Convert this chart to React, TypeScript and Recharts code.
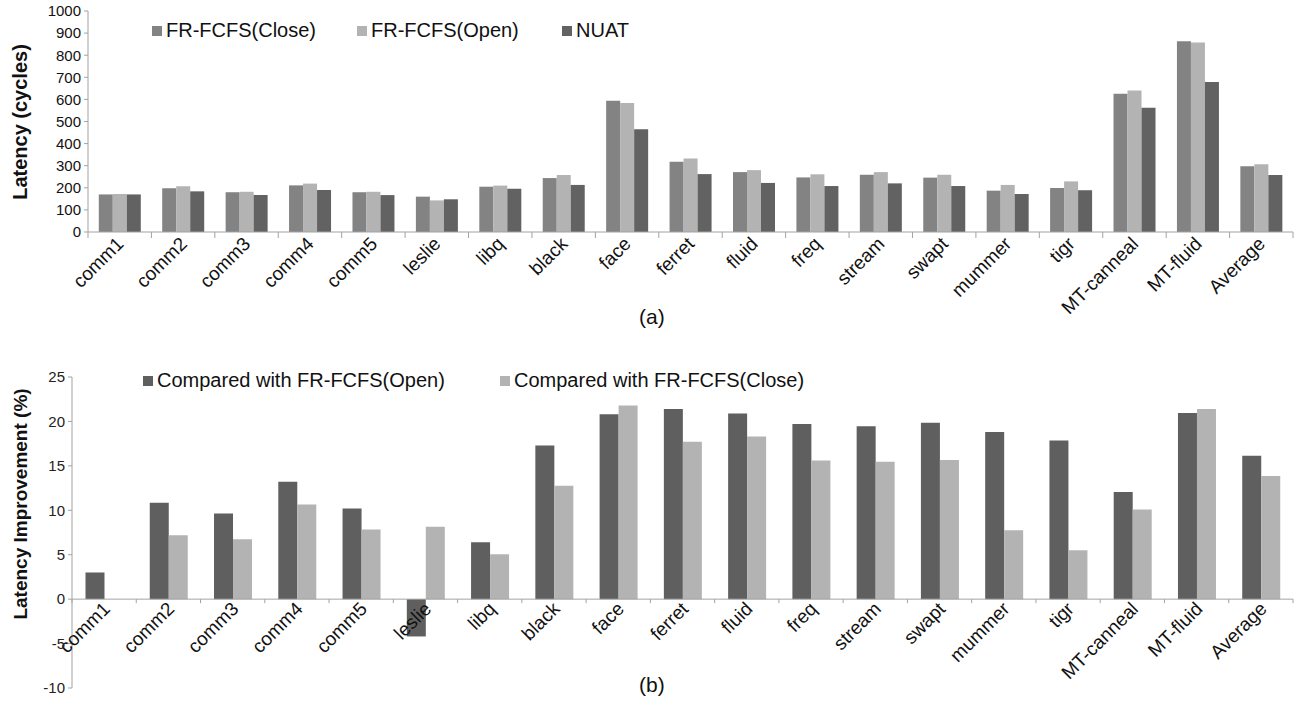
import React from 'react';
import { BarChart, Bar, XAxis, YAxis, Legend, ReferenceLine } from 'recharts';

const categories = [
  'comm1', 'comm2', 'comm3', 'comm4', 'comm5', 'leslie', 'libq', 'black', 'face', 'ferret',
  'fluid', 'freq', 'stream', 'swapt', 'mummer', 'tigr', 'MT-canneal', 'MT-fluid', 'Average',
];

// (a) latency in cycles
const closeLatency = [170, 198, 180, 211, 180, 160, 205, 244, 594, 318, 271, 247, 259, 246, 187, 199, 626, 863, 297];
const openLatency = [172, 207, 182, 219, 182, 143, 210, 258, 584, 333, 280, 261, 271, 259, 213, 229, 640, 858, 306];
const nuatLatency = [170, 184, 167, 190, 167, 148, 196, 213, 465, 262, 222, 208, 220, 208, 172, 189, 562, 679, 258];
const latencyTicks = [0, 100, 200, 300, 400, 500, 600, 700, 800, 900, 1000];

// (b) latency improvement in %
const vsOpen = [3.0, 10.85, 9.65, 13.2, 10.2, -4.2, 6.4, 17.3, 20.8, 21.4, 20.9, 19.7, 19.45, 19.85, 18.8, 17.85, 12.05, 20.95, 16.15];
const vsClose = [0, 7.2, 6.75, 10.65, 7.85, 8.15, 5.05, 12.75, 21.8, 17.7, 18.3, 15.6, 15.45, 15.65, 7.75, 5.5, 10.1, 21.4, 13.85];
const improvementTicks = [-10, -5, 0, 5, 10, 15, 20, 25];

const latencyData = categories.map((name, i) => ({
  name,
  close: closeLatency[i],
  open: openLatency[i],
  nuat: nuatLatency[i],
}));

const improvementData = categories.map((name, i) => ({
  name,
  vsOpen: vsOpen[i],
  vsClose: vsClose[i],
}));

const FONT = '"Liberation Sans", Arial, Helvetica, sans-serif';
const AXIS_COLOR = '#a3a3a3';
const WIDTH = 1294;

// layout of the two panels
const TOP_H = 345;
const TOP_MARGIN_T = 11;
const TOP_XAXIS_H = 113;
const TOP_LEFT = 88;

const BOT_OFFSET = 360;
const BOT_H = 347;
const BOT_MARGIN_T = 17;
const BOT_XAXIS_H = 19;
const BOT_LEFT = 72;
const RIGHT_MARGIN = 1;

const topBand = (WIDTH - RIGHT_MARGIN - TOP_LEFT) / categories.length;
const botBand = (WIDTH - RIGHT_MARGIN - BOT_LEFT) / categories.length;
const botPlotH = BOT_H - BOT_MARGIN_T - BOT_XAXIS_H;
const botZeroLift =
  (botPlotH * (0 - improvementTicks[0])) / (improvementTicks[improvementTicks.length - 1] - improvementTicks[0]);

const CategoryTick = (props: any) => {
  const { x, y, payload, band, lift, dx, dy, tickLen } = props;
  const yy = y - lift;
  const isLast = payload.value === categories[categories.length - 1];
  return (
    <g>
      <line x1={x - band / 2} x2={x - band / 2} y1={yy} y2={yy + tickLen} stroke={AXIS_COLOR} />
      {isLast && <line x1={x + band / 2} x2={x + band / 2} y1={yy} y2={yy + tickLen} stroke={AXIS_COLOR} />}
      <text
        x={0}
        y={0}
        transform={`translate(${x + dx},${yy + dy}) rotate(-45)`}
        textAnchor="end"
        fontSize={19}
        fontFamily={FONT}
        fill="#111"
      >
        {payload.value}
      </text>
    </g>
  );
};

const AxisTitle = ({ text, cx, cy, size }: any) => (
  <text
    x={cx}
    y={cy}
    transform={`rotate(-90, ${cx}, ${cy})`}
    textAnchor="middle"
    fontSize={size}
    fontWeight="bold"
    fontFamily={FONT}
    fill="#111"
  >
    {text}
  </text>
);

const LegendContent = ({ payload, itemWidth, order }: any) => {
  const items = [...(payload || [])].sort(
    (a: any, b: any) => order.indexOf(a.dataKey) - order.indexOf(b.dataKey)
  );
  return (
    <div style={{ display: 'flex', fontFamily: FONT, fontSize: 20, color: '#111', whiteSpace: 'nowrap', lineHeight: '23px' }}>
      {items.map((entry: any) => (
        <div key={entry.value} style={{ display: 'flex', alignItems: 'center', width: itemWidth }}>
          <span style={{ display: 'inline-block', width: 10, height: 10, background: entry.color, marginRight: 4 }} />
          <span>{entry.value}</span>
        </div>
      ))}
    </div>
  );
};

const PanelLabel = ({ text, left, top }: any) => (
  <div style={{ position: 'absolute', left, top, fontFamily: FONT, fontSize: 21, color: '#111', lineHeight: '24px' }}>
    {text}
  </div>
);

export default function App() {
  return (
    <div style={{ position: 'absolute', left: 0, top: 0, width: WIDTH, height: 707, background: '#fff', overflow: 'hidden' }}>
      <div style={{ position: 'absolute', left: 0, top: 0 }}>
        <BarChart
          width={WIDTH}
          height={TOP_H}
          data={latencyData}
          margin={{ top: TOP_MARGIN_T, right: RIGHT_MARGIN, left: 0, bottom: 0 }}
          barCategoryGap="17%"
          barGap={0}
        >
          <XAxis
            dataKey="name"
            interval={0}
            height={TOP_XAXIS_H}
            axisLine={{ stroke: AXIS_COLOR }}
            tickLine={false}
            tickSize={0}
            tickMargin={0}
            tick={<CategoryTick band={topBand} lift={0} dx={5} dy={13} tickLen={6} />}
          />
          <YAxis
            width={TOP_LEFT}
            domain={[0, 1000]}
            ticks={latencyTicks}
            interval={0}
            axisLine={{ stroke: AXIS_COLOR }}
            tickLine={{ stroke: AXIS_COLOR }}
            tickSize={4}
            tickMargin={3}
            tick={{ fontSize: 15, fill: '#111', fontFamily: FONT }}
            label={<AxisTitle text="Latency (cycles)" cx={27} cy={122} size={20} />}
          />
          <Legend
            layout="horizontal"
            align="center"
            verticalAlign="middle"
            wrapperStyle={{ top: 19, left: 152, width: 700 }}
            content={<LegendContent itemWidth={205} order={['close', 'open', 'nuat']} />}
          />
          <Bar dataKey="close" name="FR-FCFS(Close)" fill="#838383" isAnimationActive={false} />
          <Bar dataKey="open" name="FR-FCFS(Open)" fill="#b3b3b3" isAnimationActive={false} />
          <Bar dataKey="nuat" name="NUAT" fill="#626262" isAnimationActive={false} />
        </BarChart>
      </div>
      <PanelLabel text="(a)" left={639} top={305} />

      <div style={{ position: 'absolute', left: 0, top: BOT_OFFSET }}>
        <BarChart
          width={WIDTH}
          height={BOT_H}
          data={improvementData}
          margin={{ top: BOT_MARGIN_T, right: RIGHT_MARGIN, left: 0, bottom: 0 }}
          barCategoryGap="21%"
          barGap={0}
        >
          <XAxis
            dataKey="name"
            interval={0}
            height={BOT_XAXIS_H}
            axisLine={false}
            tickLine={false}
            tickSize={0}
            tickMargin={0}
            tick={<CategoryTick band={botBand} lift={botZeroLift} dx={7} dy={11} tickLen={4} />}
          />
          <YAxis
            width={BOT_LEFT}
            domain={[-10, 25]}
            ticks={improvementTicks}
            interval={0}
            axisLine={{ stroke: AXIS_COLOR }}
            tickLine={{ stroke: AXIS_COLOR }}
            tickSize={4}
            tickMargin={3}
            tick={{ fontSize: 15, fill: '#222', fontFamily: FONT }}
            label={<AxisTitle text="Latency Improvement (%)" cx={27} cy={144} size={19} />}
          />
          <Legend
            layout="horizontal"
            align="center"
            verticalAlign="middle"
            wrapperStyle={{ top: 9, left: 143, width: 800 }}
            content={<LegendContent itemWidth={357} order={['vsOpen', 'vsClose']} />}
          />
          <ReferenceLine y={0} stroke={AXIS_COLOR} />
          <Bar dataKey="vsOpen" name="Compared with FR-FCFS(Open)" fill="#5f5f5f" isAnimationActive={false} />
          <Bar dataKey="vsClose" name="Compared with FR-FCFS(Close)" fill="#b3b3b3" isAnimationActive={false} />
        </BarChart>
      </div>
      <PanelLabel text="(b)" left={639} top={673} />
    </div>
  );
}
